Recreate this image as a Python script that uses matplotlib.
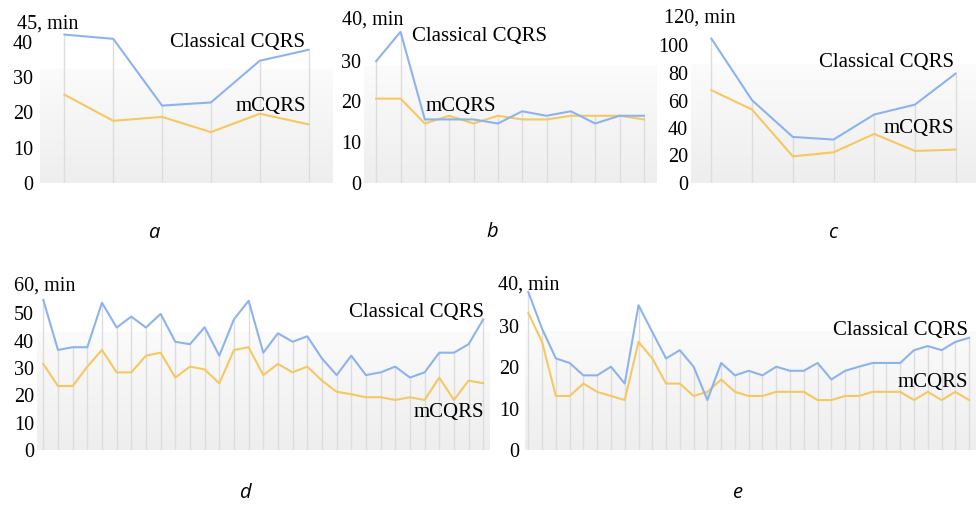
import matplotlib
matplotlib.use("Agg")
import matplotlib.pyplot as plt
import numpy as np
from matplotlib.colors import LinearSegmentedColormap

# Data (minutes)
a_classical = [42.0, 40.8, 21.9, 22.8, 34.6, 37.7]
a_mcqrs = [25.0, 17.6, 18.7, 14.4, 19.6, 16.6]

b_classical = [29.9, 37.1, 15.6, 15.6, 15.6, 14.6, 17.6, 16.5, 17.6, 14.6, 16.5, 16.5]
b_mcqrs = [20.7, 20.7, 14.6, 16.5, 14.6, 16.5, 15.6, 15.6, 16.5, 16.5, 16.5, 15.6]

c_classical = [105, 60.2, 33.5, 31.6, 49.8, 57.0, 79.6]
c_mcqrs = [67.5, 53.4, 19.4, 22.3, 35.7, 23.3, 24.3]

d_classical = [54.9, 36.6, 37.6, 37.6, 53.9, 44.8, 48.8, 44.8, 49.8, 39.6, 38.7,
               44.9, 34.5, 47.8, 54.6, 35.6, 42.7, 39.6, 41.6, 33.5, 27.4, 34.5,
               27.4, 28.4, 30.5, 26.5, 28.4, 35.6, 35.6, 38.7, 47.8]
d_mcqrs = [31.5, 23.4, 23.4, 30.5, 36.6, 28.4, 28.4, 34.5, 35.6, 26.5, 30.5,
           29.5, 24.4, 36.6, 37.6, 27.4, 31.5, 28.4, 30.5, 25.4, 21.3, 20.4,
           19.3, 19.3, 18.3, 19.3, 18.3, 26.5, 18.3, 25.4, 24.4]

e_classical = [38.3, 29.4, 22.2, 21.1, 18.1, 18.1, 20.2, 16.1, 35.1, 28.6, 22.2,
               24.2, 20.2, 12.1, 21.1, 18.1, 19.2, 18.1, 20.2, 19.2, 19.2, 21.1,
               17.1, 19.2, 20.2, 21.1, 21.1, 21.1, 24.2, 25.2, 24.2, 26.2, 27.2]
e_mcqrs = [33.2, 26.2, 13.1, 13.1, 16.1, 14.1, 13.1, 12.1, 26.2, 22.2, 16.1,
           16.1, 13.1, 14.1, 17.1, 14.1, 13.1, 13.1, 14.1, 14.1, 14.1, 12.1,
           12.1, 13.1, 13.1, 14.1, 14.1, 14.1, 12.1, 14.1, 12.1, 14.1, 12.1]

panel_letters = ["a", "b", "c", "d", "e"]

W, H = 976, 505
BLUE = "#8db3ef"
YELLOW = "#f6c85f"
SERIF = "Liberation Serif"

fig = plt.figure(figsize=(W / 100, H / 100), dpi=100)

grad_cmap = LinearSegmentedColormap.from_list(
    "bg", [(0.0, "#eeeeee"), (0.72, "#fbfbfb"), (0.721, "#ffffff"), (1.0, "#ffffff")])


def px_axes(left, right, top, bottom):
    return fig.add_axes([left / W, 1 - bottom / H, (right - left) / W, (bottom - top) / H])


def panel(ax, classical, mcqrs, top, step, xlim, pad, top_off):
    x = np.arange(len(classical))
    grad = np.linspace(0, 1, 200).reshape(-1, 1)
    ax.imshow(grad, extent=[0, 1, 0, 1], transform=ax.transAxes, origin="lower",
              aspect="auto", cmap=grad_cmap, vmin=0, vmax=1, zorder=0)
    ax.vlines(x, 0, np.maximum(classical, mcqrs), color="#dddddd", lw=1, zorder=1)
    ax.plot(x, mcqrs, color=YELLOW, lw=1.5, zorder=3, clip_on=False)
    ax.plot(x, classical, color=BLUE, lw=1.5, zorder=3, clip_on=False)
    ax.set_xlim(*xlim)
    ax.set_ylim(0, top)
    ax.set_xticks([])
    ax.set_yticks(np.arange(0, top, step))
    ax.tick_params(axis="y", length=0, pad=pad, labelsize=14.5)
    for lab in ax.get_yticklabels():
        lab.set_fontfamily(SERIF)
    for s in ax.spines.values():
        s.set_visible(False)
    ax.annotate(f"{top}, min", xy=(0, top), xycoords=("axes fraction", "data"),
                xytext=(-top_off, 0), textcoords="offset pixels",
                ha="left", va="center", fontsize=14.5, family=SERIF,
                annotation_clip=False)


ax_a = px_axes(40, 333, 24, 183)
panel(ax_a, a_classical, a_mcqrs, 45, 10, (-0.5, 5.5), 5, 23)
ax_b = px_axes(364, 656, 20, 183)
panel(ax_b, b_classical, b_mcqrs, 40, 10, (-0.5, 11.5), 2, 22)
ax_c = px_axes(691, 976, 18, 183)
panel(ax_c, c_classical, c_mcqrs, 120, 20, (-0.5, 6.5), 2, 27)
ax_d = px_axes(37, 490, 286, 450)
panel(ax_d, d_classical, d_mcqrs, 60, 10, (-0.43, 30.46), 2, 23)
ax_e = px_axes(525, 976, 285, 450)
panel(ax_e, e_classical, e_mcqrs, 40, 10, (-0.24, 32.5), 4, 27)

# series labels (pixel position, alignment)
series_labels = [
    ("Classical CQRS", 305, 42, "right"), ("mCQRS", 306, 106, "right"),
    ("Classical CQRS", 412, 37, "left"), ("mCQRS", 426, 106, "left"),
    ("Classical CQRS", 954, 63, "right"), ("mCQRS", 954, 128, "right"),
    ("Classical CQRS", 484, 313, "right"), ("mCQRS", 484, 412, "right"),
    ("Classical CQRS", 968, 330, "right"), ("mCQRS", 968, 383, "right"),
]
for txt, px, py, ha in series_labels:
    fig.text(px / W, 1 - py / H, txt, ha=ha, va="center", fontsize=15, family=SERIF)

letter_pos = [(154, 233), (492, 232), (833, 233), (245, 493), (738, 493)]
for letter, (px, py) in zip(panel_letters, letter_pos):
    fig.text(px / W, 1 - py / H, letter, ha="center", va="center", fontsize=14.5,
             family="Open Sans", style="italic")

fig.savefig("out.png", dpi=100)
